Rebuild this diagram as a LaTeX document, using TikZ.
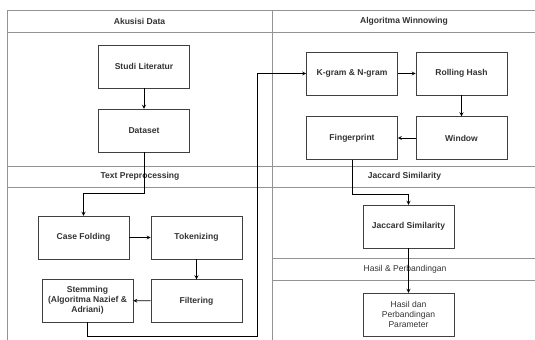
\documentclass[tikz,border=0pt]{standalone}
\usepackage{fontspec}
\setmainfont{Liberation Sans}
\usepackage{tikz}
\usetikzlibrary{arrows,positioning,calc}

\begin{document}
\begin{tikzpicture}[
    x=0.03cm, y=-0.03cm,
    box/.style={rectangle, draw=black!75, minimum width=2.74cm, minimum height=1.29cm, align=center, text=black!80, font=\fontsize{7.3}{8.6}\selectfont\bfseries},
    plainbox/.style={box, font=\fontsize{7.3}{8.6}\selectfont},
    lane/.style={draw=gray!85, line width=0.6pt},
    title/.style={font=\fontsize{7.3}{8.6}\selectfont\bfseries, text=black!80},
    arrow/.style={->, >=stealth, line width=0.5pt}
]
\useasboundingbox (0,0) rectangle (535,340);

% Swimlanes
\draw[lane] (7,340) -- (7,10) -- (535,10);
\draw[lane] (7,32) -- (535,32);
\draw[lane] (272,10) -- (272,340);
\draw[lane] (7,166) -- (535,166);
\draw[lane] (7,187) -- (535,187);
\draw[lane] (272,258) -- (535,258);
\draw[lane] (272,280) -- (535,280);

% Lane titles
\node[title] (tAkusisi) at (139.5,21) {Akusisi Data};
\node[title] (tWinnow) at (404,21) {Algoritma Winnowing};
\node[title] (tPrep) at (140,176.5) {Text Preprocessing};
\node[title] (tJaccard) at (404.5,176.5) {Jaccard Similarity};
\node[title, font=\fontsize{7.3}{8.6}\selectfont] (tHasil) at (405,269) {Hasil \& Perbandingan};

% Akusisi Data
\node[box] (studi) at (144,66.5) {Studi Literatur};
\node[box] (dataset) at (144,130.5) {Dataset};

% Text Preprocessing
\node[box] (casefold) at (83.5,237.5) {Case Folding};
\node[box] (token) at (196.5,237.5) {Tokenizing};
\node[box] (filter) at (196.5,301) {Filtering};
\node[box] (stem) at (87.5,300.5) {Stemming\\(Algoritma Nazief \&\\Adriani)};

% Algoritma Winnowing
\node[box] (kgram) at (352,73.5) {K-gram \& N-gram};
\node[box] (rolling) at (461.5,73.5) {Rolling Hash};
\node[box] (window) at (461.5,138) {Window};
\node[box] (finger) at (352,138) {Fingerprint};

% Jaccard Similarity and result
\node[box] (jaccard) at (408.5,226.5) {Jaccard Similarity};
\node[plainbox] (hasil) at (408.5,314.5) {Hasil dan\\Perbandingan\\Parameter};

% Bend points
\coordinate (c1) at (144,193);
\coordinate (c2) at (257,336);
\coordinate (c3) at (352,194);

% Connectors
\draw[arrow] (studi) -- (dataset);
\draw[arrow] (dataset) -- (c1) -| (casefold);
\draw[arrow] (casefold) -- (token);
\draw[arrow] (token) -- (filter);
\draw[arrow] (filter) -- (stem);
\draw[arrow] (stem) |- (c2) |- (kgram);
\draw[arrow] (kgram) -- (rolling);
\draw[arrow] (rolling) -- (window);
\draw[arrow] (window) -- (finger);
\draw[arrow] (finger) -- (c3) -| (jaccard);
\draw[arrow] (jaccard) -- (hasil);
\end{tikzpicture}
\end{document}
